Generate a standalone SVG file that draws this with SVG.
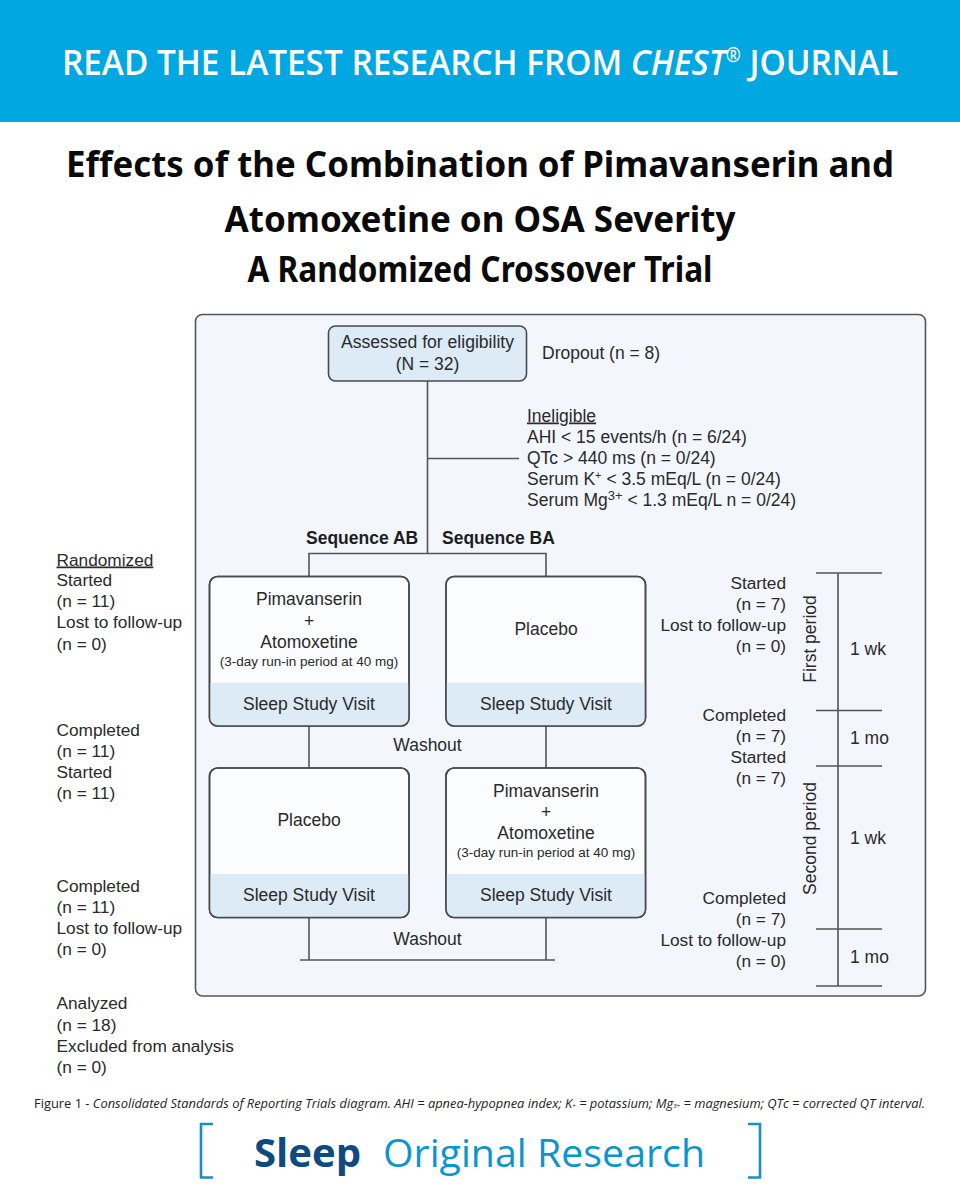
<svg xmlns="http://www.w3.org/2000/svg" width="960" height="1200" viewBox="0 0 960 1200">
<style>
text{font-family:"Liberation Sans",Arial,sans-serif;font-size:17.5px;fill:#2a2a2a}
.m{text-anchor:middle}.e{text-anchor:end}.b{font-weight:700;fill:#1d1d1d}
.s{font-size:13.5px}
.sd text{font-size:17.25px}
.t{font-family:"Noto Sans",sans-serif;font-weight:700;font-size:35px;fill:#0a0a0a;text-anchor:middle}
.ln{fill:none;stroke:#555;stroke-width:1.6}
.box{fill:#fbfcfe;stroke:#4a4a4a;stroke-width:1.6}
.band{fill:#dcebf6}
.br{fill:none;stroke:#1a8fc4;stroke-width:2.6}
</style>
<defs>
<clipPath id="c1"><rect x="209.500" y="576.500" width="199.500" height="149.500" rx="8"/></clipPath>
<clipPath id="c2"><rect x="446" y="576.500" width="199.500" height="149.500" rx="8"/></clipPath>
<clipPath id="c3"><rect x="209.500" y="768" width="199.500" height="149.500" rx="8"/></clipPath>
<clipPath id="c4"><rect x="446" y="768" width="199.500" height="149.500" rx="8"/></clipPath>
</defs>
<rect width="960" height="1200" fill="#fff"/>
<g id="header">
<rect width="960" height="122" fill="#00a7e1"/>
<text x="62" y="74.500" textLength="836" lengthAdjust="spacingAndGlyphs" style="font-family:'Open Sans',sans-serif;font-weight:600;font-size:35px;fill:#fff">READ THE LATEST RESEARCH FROM <tspan font-style="italic">CHEST</tspan><tspan font-size="19" dy="-13">®</tspan><tspan dy="13"> JOURNAL</tspan></text>
</g>
<g id="title">
<text class="t" x="480" y="177" textLength="828" lengthAdjust="spacingAndGlyphs">Effects of the Combination of Pimavanserin and</text>
<text class="t" x="480" y="232" textLength="511" lengthAdjust="spacingAndGlyphs">Atomoxetine on OSA Severity</text>
<text class="t" x="480" y="282" textLength="465" lengthAdjust="spacingAndGlyphs">A Randomized Crossover Trial</text>
</g>
<rect id="panel" x="195.500" y="314.500" width="730" height="681.500" rx="7" fill="#f3f6fd" stroke="#555" stroke-width="1.6"/>
<g id="connectors">
<path class="ln" d="M427.500 381V553.500M427.500 458.500H519M309 576V553.500H546V576M309 726V768M546 726V768M309 917V960M546 917V960M300 960H555"/>
<path class="ln" d="M838 573V986M816 573H882M816 710.500H882M816 766H882M816 929H882M816 986H882"/>
</g>
<g id="assessed">
<rect x="328.500" y="326" width="198" height="55" rx="7" fill="#dcebf6" stroke="#4a4a4a" stroke-width="1.600"/>
<text class="m" x="427.500" y="348" textLength="173" lengthAdjust="spacingAndGlyphs">Assessed for eligibility</text>
<text class="m" x="427.500" y="370">(N = 32)</text>
</g>
<g id="dropout"><text x="542" y="359">Dropout (n = 8)</text></g>
<g id="ineligible">
<text x="527" y="421.500" text-decoration="underline">Ineligible</text>
<text x="527" y="442.500">AHI &lt; 15 events/h (n = 6/24)</text>
<text x="527" y="463.500">QTc &gt; 440 ms (n = 0/24)</text>
<text x="527" y="484.500">Serum K<tspan font-size="11" dy="-6">+</tspan><tspan dy="6"> &lt; 3.5 mEq/L (n = 0/24)</tspan></text>
<text x="527" y="505.500">Serum Mg<tspan font-size="13" dy="-6">3+</tspan><tspan dy="6"> &lt; 1.3 mEq/L n = 0/24)</tspan></text>
</g>
<g id="seq-labels">
<text class="b" x="306" y="543.500">Sequence AB</text>
<text class="b" x="442" y="543.500">Sequence BA</text>
</g>
<g id="arm-ab-1">
<rect class="box" x="209.500" y="576.500" width="199.500" height="149.500" rx="8"/>
<rect class="band" x="209.500" y="683" width="199.500" height="43" clip-path="url(#c1)"/>
<rect class="box" style="fill:none" x="209.500" y="576.500" width="199.500" height="149.500" rx="8"/>
<text class="m" x="309" y="605">Pimavanserin</text><text class="m" x="309" y="626.500">+</text><text class="m" x="309" y="647.500">Atomoxetine</text>
<text class="m s" x="309" y="666">(3-day run-in period at 40 mg)</text>
<text class="m" x="309" y="710">Sleep Study Visit</text>
</g>
<g id="arm-ba-1">
<rect class="box" x="446" y="576.500" width="199.500" height="149.500" rx="8"/>
<rect class="band" x="446" y="683" width="199.500" height="43" clip-path="url(#c2)"/>
<rect class="box" style="fill:none" x="446" y="576.500" width="199.500" height="149.500" rx="8"/>
<text class="m" x="546" y="635">Placebo</text>
<text class="m" x="546" y="710">Sleep Study Visit</text>
</g>
<g id="arm-ab-2">
<rect class="box" x="209.500" y="768" width="199.500" height="149.500" rx="8"/>
<rect class="band" x="209.500" y="874" width="199.500" height="43.500" clip-path="url(#c3)"/>
<rect class="box" style="fill:none" x="209.500" y="768" width="199.500" height="149.500" rx="8"/>
<text class="m" x="309" y="826">Placebo</text>
<text class="m" x="309" y="901">Sleep Study Visit</text>
</g>
<g id="arm-ba-2">
<rect class="box" x="446" y="768" width="199.500" height="149.500" rx="8"/>
<rect class="band" x="446" y="874" width="199.500" height="43.500" clip-path="url(#c4)"/>
<rect class="box" style="fill:none" x="446" y="768" width="199.500" height="149.500" rx="8"/>
<text class="m" x="546" y="796.500">Pimavanserin</text><text class="m" x="546" y="817.500">+</text><text class="m" x="546" y="838.500">Atomoxetine</text>
<text class="m s" x="546" y="857">(3-day run-in period at 40 mg)</text>
<text class="m" x="546" y="901">Sleep Study Visit</text>
</g>
<g id="washout">
<text class="m" x="427.500" y="750.500">Washout</text>
<text class="m" x="427.500" y="944.500">Washout</text>
</g>
<g id="left-labels" class="sd">
<text x="56.500" y="565.500" text-decoration="underline">Randomized</text>
<text x="56.500" y="586">Started</text><text x="56.500" y="607">(n = 11)</text><text x="56.500" y="628">Lost to follow-up</text><text x="56.500" y="650">(n = 0)</text>
<text x="56.500" y="736">Completed</text><text x="56.500" y="757">(n = 11)</text><text x="56.500" y="778">Started</text><text x="56.500" y="799">(n = 11)</text>
<text x="56.500" y="892">Completed</text><text x="56.500" y="913">(n = 11)</text><text x="56.500" y="934">Lost to follow-up</text><text x="56.500" y="955">(n = 0)</text>
<text x="56.500" y="1009">Analyzed</text><text x="56.500" y="1031">(n = 18)</text><text x="56.500" y="1052">Excluded from analysis</text><text x="56.500" y="1073">(n = 0)</text>
</g>
<g id="right-labels" class="sd">
<text class="e" x="786" y="589">Started</text><text class="e" x="786" y="610">(n = 7)</text><text class="e" x="786" y="631">Lost to follow-up</text><text class="e" x="786" y="652">(n = 0)</text>
<text class="e" x="786" y="720.500">Completed</text><text class="e" x="786" y="741.500">(n = 7)</text><text class="e" x="786" y="762.500">Started</text><text class="e" x="786" y="783.500">(n = 7)</text>
<text class="e" x="786" y="904">Completed</text><text class="e" x="786" y="925">(n = 7)</text><text class="e" x="786" y="946">Lost to follow-up</text><text class="e" x="786" y="967">(n = 0)</text>
</g>
<g id="timeline-labels">
<text class="m" transform="translate(816 639) rotate(-90)">First period</text>
<text class="m" transform="translate(816 838.500) rotate(-90)">Second period</text>
<text x="850" y="655">1 wk</text><text x="850" y="744">1 mo</text><text x="850" y="844">1 wk</text><text x="850" y="963">1 mo</text>
</g>
<g id="caption">
<text x="34" y="1108" textLength="891" lengthAdjust="spacingAndGlyphs" style="font-family:'Open Sans',sans-serif;font-size:12.500px;fill:#222">Figure 1 - <tspan font-style="italic">Consolidated Standards of Reporting Trials diagram. AHI = apnea-hypopnea index; K<tspan font-size="6">+</tspan> = potassium; Mg<tspan font-size="6">3+</tspan> = magnesium; QTc = corrected QT interval.</tspan></text>
</g>
<g id="footer">
<path class="br" d="M213 1124H201V1177.500H213M748 1124H760V1177.500H748"/>
<text x="254" y="1167" textLength="107" lengthAdjust="spacingAndGlyphs" style="font-family:'Open Sans',sans-serif;font-weight:700;font-size:39px;fill:#0d4a80">Sleep</text>
<text x="383" y="1167" textLength="322" lengthAdjust="spacingAndGlyphs" style="font-family:'Open Sans',sans-serif;font-size:39px;fill:#0c95cc">Original Research</text>
</g>
</svg>
